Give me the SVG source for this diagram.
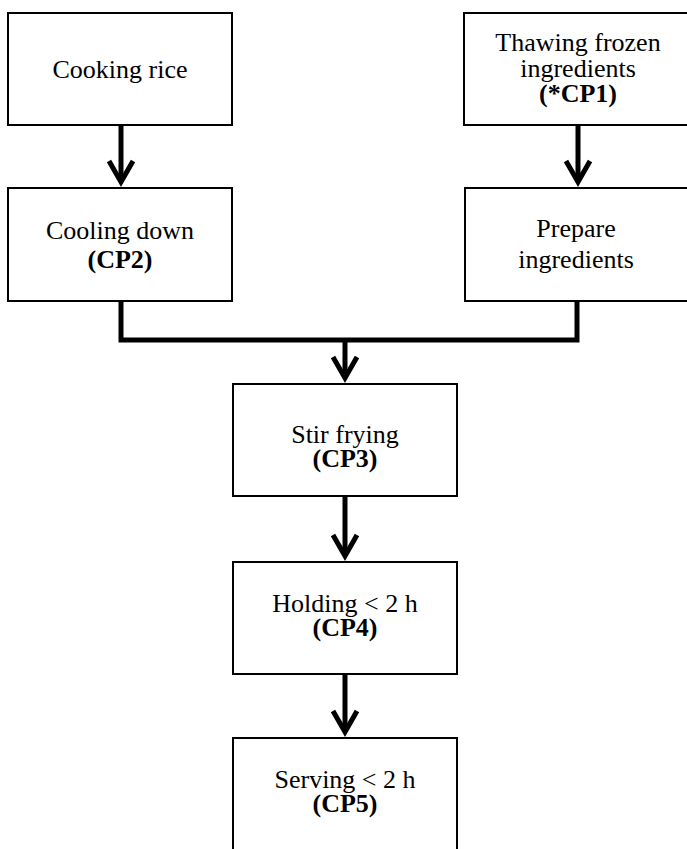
<svg xmlns="http://www.w3.org/2000/svg" width="687" height="849" viewBox="0 0 687 849">
<style>
  .box { fill: #ffffff; stroke: #000000; stroke-width: 2; }
  .t { font-family: "Liberation Serif", "Times New Roman", serif; font-size: 26px; fill: #000000; text-anchor: middle; }
  .b { font-weight: bold; }
  .conn { fill: none; stroke: #000000; stroke-width: 5; stroke-linejoin: miter; }
</style>
<defs>
  <marker id="arrow" markerUnits="userSpaceOnUse" markerWidth="40" markerHeight="40" viewBox="-30 -20 40 40" refX="0" refY="0" orient="auto" overflow="visible">
    <path d="M -21 -12 L 0 0 L -21 12" fill="none" stroke="#000000" stroke-width="5" stroke-linejoin="miter"/>
  </marker>
</defs>
<rect x="0" y="0" width="687" height="849" fill="#ffffff"/>

<g id="connectors">
  <path class="conn" d="M 121 126 L 121 182" marker-end="url(#arrow)"/>
  <path class="conn" d="M 578 126 L 578 182" marker-end="url(#arrow)"/>
  <path class="conn" d="M 121 301 L 121 340 L 577 340 L 577 301"/>
  <path class="conn" d="M 345 340 L 345 378" marker-end="url(#arrow)"/>
  <path class="conn" d="M 345 497 L 345 556" marker-end="url(#arrow)"/>
  <path class="conn" d="M 345 675 L 345 732" marker-end="url(#arrow)"/>
</g>

<g id="cooking-rice">
  <rect class="box" x="8" y="13" width="224" height="112"/>
  <text class="t" x="120" y="78">Cooking rice</text>
</g>
<g id="thawing">
  <rect class="box" x="464" y="13" width="240" height="112"/>
  <text class="t" x="578" y="51">Thawing frozen</text>
  <text class="t" x="578" y="77">ingredients</text>
  <text class="t b" x="578" y="102">(*CP1)</text>
</g>
<g id="cooling-down">
  <rect class="box" x="8" y="188" width="224" height="113"/>
  <text class="t" x="120" y="239">Cooling down</text>
  <text class="t b" x="120" y="268">(CP2)</text>
</g>
<g id="prepare">
  <rect class="box" x="465" y="188" width="240" height="113"/>
  <text class="t" x="576" y="237">Prepare</text>
  <text class="t" x="576" y="268">ingredients</text>
</g>
<g id="stir-frying">
  <rect class="box" x="233" y="384" width="224" height="112"/>
  <text class="t" x="345" y="443">Stir frying</text>
  <text class="t b" x="345" y="467">(CP3)</text>
</g>
<g id="holding">
  <rect class="box" x="233" y="562" width="224" height="112"/>
  <text class="t" x="345" y="612">Holding &lt; 2 h</text>
  <text class="t b" x="345" y="636">(CP4)</text>
</g>
<g id="serving">
  <rect class="box" x="233" y="738" width="224" height="130"/>
  <text class="t" x="345" y="788">Serving &lt; 2 h</text>
  <text class="t b" x="345" y="812">(CP5)</text>
</g>
</svg>
